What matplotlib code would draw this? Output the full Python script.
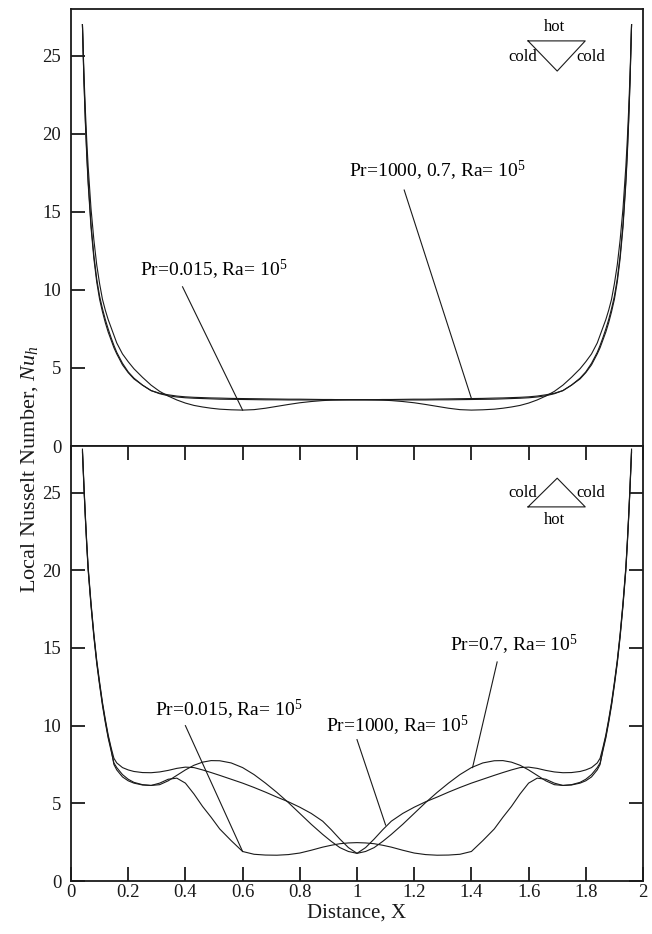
import matplotlib
matplotlib.use("Agg")
import matplotlib.pyplot as plt

plt.rcParams['font.family'] = 'Liberation Serif'
plt.rcParams['mathtext.fontset'] = 'custom'
plt.rcParams['mathtext.rm'] = 'Liberation Serif'
plt.rcParams['mathtext.it'] = 'Liberation Serif:italic'

# distance along the base
x_dist = [0.04, 0.045, 0.05, 0.055, 0.06, 0.07, 0.08, 0.09, 0.10, 0.11, 0.12, 0.13, 0.14,
          0.15, 0.16, 0.18, 0.20, 0.22, 0.25, 0.28, 0.31, 0.34, 0.37, 0.40, 0.43, 0.46,
          0.49, 0.52, 0.56, 0.60, 0.64, 0.68, 0.72, 0.76, 0.80, 0.84, 0.88, 0.91, 0.94,
          0.97, 1.00,
          1.03, 1.06, 1.09, 1.12, 1.16, 1.20, 1.24, 1.28, 1.32, 1.36, 1.40, 1.44, 1.48,
          1.51, 1.54, 1.57, 1.60, 1.63, 1.66, 1.69, 1.72, 1.75, 1.78, 1.80, 1.82, 1.84,
          1.85, 1.86, 1.87, 1.88, 1.89, 1.90, 1.91, 1.92, 1.93, 1.94, 1.945, 1.95, 1.955, 1.96]

# top panel: hot top wall
top_pr1000 = [27.0, 23.5, 20.8, 18.6, 16.8, 14.0, 12.0, 10.5, 9.4, 8.6, 7.9, 7.3, 6.8, 6.3, 5.9, 5.2,
              4.7, 4.3, 3.9, 3.55, 3.38, 3.28, 3.2, 3.15, 3.12, 3.1, 3.08, 3.07, 3.05, 3.04, 3.03,
              3.02, 3.01, 3.0, 3.0, 2.99, 2.98, 2.98, 2.97, 2.97, 2.97,
              2.97, 2.97, 2.98, 2.98, 2.99, 3.0, 3.0, 3.01, 3.02, 3.03, 3.04, 3.05, 3.07, 3.08,
              3.1, 3.12, 3.15, 3.2, 3.28, 3.38, 3.55, 3.9, 4.3, 4.7, 5.2, 5.9, 6.3, 6.8, 7.3, 7.9,
              8.6, 9.4, 10.5, 12.0, 14.0, 16.8, 18.6, 20.8, 23.5, 27.0]
top_pr07 = [27.0, 23.6, 21.0, 18.8, 17.0, 14.2, 12.2, 10.7, 9.6, 8.8, 8.1, 7.5, 6.95, 6.45, 6.0, 5.3,
            4.75, 4.35, 3.9, 3.55, 3.35, 3.22, 3.14, 3.09, 3.06, 3.04, 3.02, 3.0, 2.99, 2.98, 2.97,
            2.96, 2.96, 2.95, 2.95, 2.95, 2.95, 2.95, 2.95, 2.95, 2.95,
            2.95, 2.95, 2.95, 2.95, 2.95, 2.95, 2.95, 2.96, 2.96, 2.97, 2.98, 2.99, 3.0, 3.02,
            3.04, 3.06, 3.09, 3.14, 3.22, 3.35, 3.55, 3.9, 4.35, 4.75, 5.3, 6.0, 6.45, 6.95, 7.5,
            8.1, 8.8, 9.6, 10.7, 12.2, 14.2, 17.0, 18.8, 21.0, 23.6, 27.0]
top_pr0015 = [27.0, 24.0, 21.6, 19.6, 17.9, 15.2, 13.2, 11.6, 10.4, 9.4, 8.7, 8.1, 7.6, 7.1, 6.6, 5.9,
              5.4, 4.95, 4.4, 3.9, 3.5, 3.2, 2.95, 2.75, 2.6, 2.5, 2.42, 2.36, 2.32, 2.3, 2.33,
              2.42, 2.54, 2.66, 2.77, 2.85, 2.91, 2.94, 2.96, 2.97, 2.97,
              2.97, 2.96, 2.94, 2.91, 2.85, 2.77, 2.66, 2.54, 2.42, 2.33, 2.3, 2.32, 2.36, 2.42,
              2.5, 2.6, 2.75, 2.95, 3.2, 3.5, 3.9, 4.4, 4.95, 5.4, 5.9, 6.6, 7.1, 7.6, 8.1, 8.7,
              9.4, 10.4, 11.6, 13.2, 15.2, 17.9, 19.6, 21.6, 24.0, 27.0]

# bottom panel: hot bottom wall
bot_pr1000 = [27.8, 25.6, 23.6, 21.8, 20.2, 17.9, 15.9, 14.2, 12.8, 11.5, 10.4, 9.4, 8.6,
              7.9, 7.6, 7.3, 7.15, 7.05, 6.98, 6.97, 7.02, 7.12, 7.25, 7.33, 7.3, 7.15, 6.98,
              6.8, 6.55, 6.3, 6.02, 5.72, 5.4, 5.1, 4.75, 4.35, 3.85, 3.3, 2.7, 2.15, 1.78,
              2.15, 2.7, 3.3, 3.85, 4.35, 4.75, 5.1, 5.4, 5.72, 6.02, 6.3, 6.55, 6.8, 6.98,
              7.15, 7.3, 7.33, 7.25, 7.12, 7.02, 6.97, 6.98, 7.05, 7.15, 7.3, 7.6, 7.9, 8.6,
              9.4, 10.4, 11.5, 12.8, 14.2, 15.9, 17.9, 20.2, 21.8, 23.6, 25.6, 27.8]
bot_pr07 = [27.6, 25.4, 23.4, 21.6, 20.0, 17.7, 15.7, 14.0, 12.6, 11.3, 10.2, 9.2, 8.4,
            7.6, 7.3, 6.85, 6.55, 6.35, 6.2, 6.15, 6.2, 6.45, 6.8, 7.15, 7.45, 7.65, 7.75,
            7.74, 7.6, 7.3, 6.85, 6.3, 5.7, 5.05, 4.35, 3.65, 3.0, 2.55, 2.15, 1.9, 1.78,
            1.9, 2.15, 2.55, 3.0, 3.65, 4.35, 5.05, 5.7, 6.3, 6.85, 7.3, 7.6, 7.74, 7.75,
            7.65, 7.45, 7.15, 6.8, 6.45, 6.2, 6.15, 6.2, 6.35, 6.55, 6.85, 7.3, 7.6, 8.4,
            9.2, 10.2, 11.3, 12.6, 14.0, 15.7, 17.7, 20.0, 21.6, 23.4, 25.4, 27.6]
bot_pr0015 = [27.7, 25.5, 23.5, 21.7, 20.1, 17.8, 15.8, 14.1, 12.7, 11.4, 10.3, 9.3, 8.5,
              7.5, 7.15, 6.7, 6.45, 6.3, 6.18, 6.15, 6.3, 6.55, 6.62, 6.3, 5.6, 4.8, 4.1,
              3.35, 2.6, 1.9, 1.72, 1.67, 1.66, 1.7, 1.8, 1.98, 2.18, 2.3, 2.4, 2.45, 2.47,
              2.45, 2.4, 2.3, 2.18, 1.98, 1.8, 1.7, 1.66, 1.67, 1.72, 1.9, 2.6, 3.35, 4.1,
              4.8, 5.6, 6.3, 6.62, 6.55, 6.3, 6.15, 6.18, 6.3, 6.45, 6.7, 7.15, 7.5, 8.5,
              9.3, 10.3, 11.4, 12.7, 14.1, 15.8, 17.8, 20.1, 21.7, 23.5, 25.5, 27.7]

x_ticks = [0, 0.2, 0.4, 0.6, 0.8, 1.0, 1.2, 1.4, 1.6, 1.8, 2.0]
x_ticklabels = ['0', '0.2', '0.4', '0.6', '0.8', '1', '1.2', '1.4', '1.6', '1.8', '2']
y_ticks = [0, 5, 10, 15, 20, 25]

ink = '#1a1a1a'
fs = 14
tfs = 13.5

fig = plt.figure(figsize=(6.52, 9.34), dpi=100)
ax1 = fig.add_axes([71 / 652, 1 - 446 / 934, 572 / 652, 437 / 934])
ax2 = fig.add_axes([71 / 652, 1 - 881 / 934, 572 / 652, 435 / 934])

for ax in (ax1, ax2):
    ax.set_xlim(0, 2)
    ax.set_ylim(0, 28)
    for s in ax.spines.values():
        s.set_linewidth(1.3)
        s.set_color(ink)
    ax.set_yticks(y_ticks)

# top panel
ax1.plot(x_dist, top_pr1000, color=ink, lw=0.8)
ax1.plot(x_dist, top_pr07, color=ink, lw=0.8)
ax1.plot(x_dist, top_pr0015, color=ink, lw=0.8)
ax1.set_xticks([])
ax1.tick_params(axis='y', direction='in', length=10, width=1.3, pad=7,
                labelsize=tfs, colors=ink)

ax1.text(0.50, 11.3, r'Pr=0.015, Ra= $\mathregular{10^5}$', ha='center', va='center', fontsize=fs)
ax1.plot([0.39, 0.60], [10.2, 2.3], color=ink, lw=0.8)
ax1.text(1.28, 17.6, r'Pr=1000, 0.7, Ra= $\mathregular{10^5}$', ha='center', va='center', fontsize=fs)
ax1.plot([1.165, 1.40], [16.4, 3.05], color=ink, lw=0.8)

# inset: inverted triangle, hot on top
tr = ax1.transAxes
ax1.plot([0.799, 0.899, 0.85, 0.799], [0.927, 0.927, 0.858, 0.927], color=ink, lw=0.8, transform=tr)
ax1.text(0.846, 0.958, 'hot', ha='center', va='center', fontsize=12, transform=tr)
ax1.text(0.815, 0.89, 'cold', ha='right', va='center', fontsize=12, transform=tr)
ax1.text(0.883, 0.89, 'cold', ha='left', va='center', fontsize=12, transform=tr)

# bottom panel
ax2.plot(x_dist, bot_pr1000, color=ink, lw=0.8)
ax2.plot(x_dist, bot_pr07, color=ink, lw=0.8)
ax2.plot(x_dist, bot_pr0015, color=ink, lw=0.8)
ax2.set_xticks(x_ticks)
ax2.set_xticklabels(x_ticklabels)
ax2.tick_params(axis='both', direction='in', length=10, width=1.3, top=True, right=True,
                labelsize=tfs, colors=ink)
ax2.tick_params(axis='y', pad=7)
ax2.tick_params(axis='x', pad=2.5)

ax2.text(0.55, 11.0, r'Pr=0.015, Ra= $\mathregular{10^5}$', ha='center', va='center', fontsize=fs)
ax2.plot([0.40, 0.60], [10.0, 1.9], color=ink, lw=0.8)
ax2.text(1.14, 10.0, r'Pr=1000, Ra= $\mathregular{10^5}$', ha='center', va='center', fontsize=fs)
ax2.plot([1.0, 1.10], [9.1, 3.6], color=ink, lw=0.8)
ax2.text(1.55, 15.2, r'Pr=0.7, Ra= $\mathregular{10^5}$', ha='center', va='center', fontsize=fs)
ax2.plot([1.49, 1.404], [14.1, 7.3], color=ink, lw=0.8)

# inset: triangle, hot on bottom
tr = ax2.transAxes
ax2.plot([0.799, 0.899, 0.85, 0.799], [0.86, 0.86, 0.926, 0.86], color=ink, lw=0.8, transform=tr)
ax2.text(0.846, 0.83, 'hot', ha='center', va='center', fontsize=12, transform=tr)
ax2.text(0.815, 0.893, 'cold', ha='right', va='center', fontsize=12, transform=tr)
ax2.text(0.883, 0.893, 'cold', ha='left', va='center', fontsize=12, transform=tr)

fig.text(357 / 652, 1 - 904 / 934, 'Distance, X', ha='center', va='top', fontsize=15, color=ink)
fig.text(30 / 652, 1 - 593 / 934, r'Local Nusselt Number, $Nu_h$', rotation=90,
         ha='center', va='bottom', fontsize=16, color=ink)

fig.savefig('out.png', dpi=100)
